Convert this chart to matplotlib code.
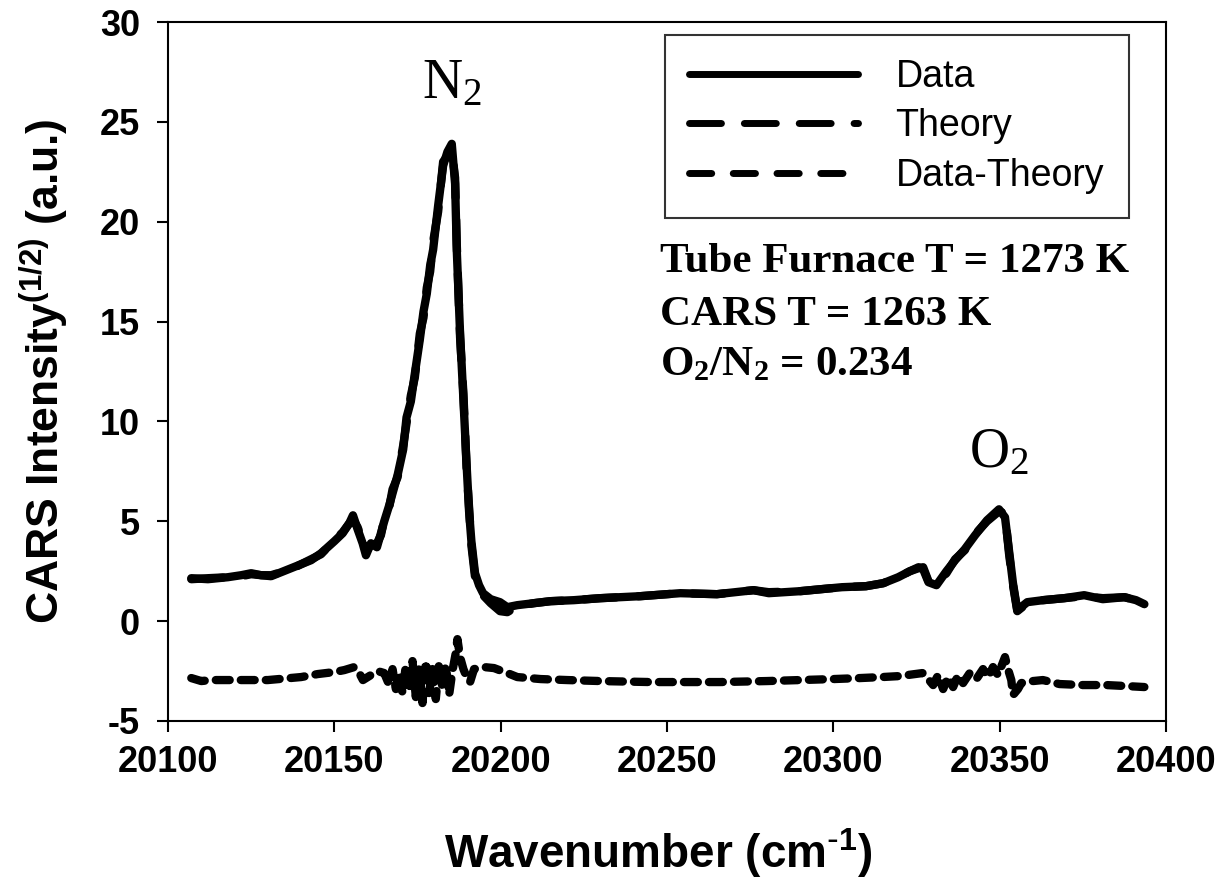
import matplotlib
matplotlib.use("Agg")
import matplotlib.pyplot as plt
from matplotlib.lines import Line2D

plt.rcParams['font.family'] = ['Liberation Sans', 'DejaVu Sans']
plt.rcParams['mathtext.default'] = 'regular'
plt.rcParams['axes.unicode_minus'] = False
plt.rcParams['lines.scale_dashes'] = False

# CARS spectrum
data_x = [20107, 20112, 20118, 20122, 20125, 20128, 20131, 20134, 20137, 20140,
          20143, 20146, 20148, 20150, 20152.5, 20154.5, 20155.6, 20157, 20158.5, 20159.5,
          20161, 20162.8, 20164, 20165, 20166.5, 20167.5, 20169, 20170.7, 20171.7, 20173,
          20174.2, 20175.7, 20176.8, 20177.8, 20178.8, 20179.7, 20181.2, 20182.7, 20184, 20185.3,
          20186.3, 20186.8, 20187.8, 20188.8, 20189.8, 20190.5, 20191.2, 20192.3, 20193.5, 20194.7,
          20197, 20199.8, 20202, 20205, 20210, 20215, 20222, 20230, 20242, 20254,
          20265, 20276, 20280.6, 20290, 20302.6, 20309.8, 20315, 20319.5, 20323, 20325.6,
          20327, 20328.6, 20331, 20334, 20336.6, 20339.5, 20342.6, 20346.2, 20349.8, 20351.6,
          20352.8, 20354, 20355.3, 20358.3, 20363, 20369.4, 20375.4, 20381, 20387.5, 20391,
          20393.5]
data_y = [2.15, 2.1, 2.2, 2.3, 2.4, 2.3, 2.25, 2.45, 2.65, 2.85,
          3.05, 3.4, 3.7, 4.0, 4.4, 4.9, 5.3, 4.6, 3.9, 3.3,
          3.9, 3.7, 4.4, 5.0, 5.8, 6.4, 7.3, 8.6, 10.2, 11.0,
          12.4, 14.1, 15.5, 16.4, 17.8, 18.6, 20.8, 22.8, 23.5, 23.9,
          21.9, 18.6, 14.4, 11.1, 7.7, 5.5, 4.0, 2.4, 1.8, 1.4,
          1.1, 0.95, 0.7, 0.8, 0.9, 1.0, 1.05, 1.15, 1.25, 1.4,
          1.35, 1.55, 1.4, 1.5, 1.7, 1.75, 1.9, 2.2, 2.5, 2.7,
          2.6, 1.95, 1.8, 2.5, 3.05, 3.6, 4.3, 5.05, 5.6, 5.2,
          3.55, 1.9, 0.55, 0.95, 1.05, 1.15, 1.3, 1.1, 1.2, 1.05,
          0.85]
theory_y = [2.1, 2.15, 2.2, 2.25, 2.35, 2.3, 2.3, 2.45, 2.6, 2.85,
            3.1, 3.35, 3.7, 4.05, 4.45, 4.9, 5.1, 4.7, 4.0, 3.5,
            3.8, 3.9, 4.3, 5.1, 5.7, 6.6, 7.2, 8.8, 9.9, 11.3,
            12.2, 14.4, 15.2, 16.7, 17.5, 19.0, 20.5, 23.0, 23.3, 23.6,
            22.2, 18.9, 14.2, 11.4, 7.5, 5.7, 3.8, 2.2, 1.7, 1.3,
            0.9, 0.5, 0.45, 0.75, 0.9, 1.0, 1.05, 1.15, 1.25, 1.4,
            1.35, 1.55, 1.45, 1.5, 1.7, 1.75, 1.9, 2.2, 2.5, 2.65,
            2.7, 2.0, 1.9, 2.4, 3.1, 3.55, 4.35, 5.0, 5.5, 5.4,
            3.4, 1.8, 0.5, 0.9, 1.05, 1.15, 1.25, 1.15, 1.2, 1.05,
            0.85]

# Data - Theory, drawn shifted down by 3
resid_x = [20107, 20110, 20113, 20120, 20130, 20140, 20145, 20150, 20153, 20156,
           20157.5, 20158.6, 20161, 20163, 20165, 20166.5, 20167.5, 20168.5, 20169.5, 20170.5,
           20171.5, 20172.5, 20173.5, 20174.5, 20175.5, 20176.5, 20177.5, 20178.5, 20179.5, 20180.5,
           20181.5, 20182.5, 20183.5, 20184.5, 20185.5, 20186.5, 20187, 20187.8, 20188.8, 20190,
           20190.8, 20192, 20195, 20198, 20202, 20205, 20212, 20220, 20230, 20245,
           20266, 20280, 20290, 20300, 20308, 20314.6, 20320, 20326.8, 20328.5, 20330,
           20331.5, 20333, 20334.5, 20336, 20337.5, 20339, 20341, 20343, 20345, 20346.5,
           20348, 20349.5, 20351.6, 20352.5, 20353.5, 20354, 20355.5, 20356.5, 20360, 20363,
           20368, 20375, 20382, 20388, 20393.5]
resid_y = [-2.85, -3.0, -2.95, -2.95, -2.95, -2.8, -2.65, -2.55, -2.45, -2.3,
           -2.6, -2.95, -2.7, -2.5, -2.6, -3.2, -2.4, -3.4, -2.6, -3.6,
           -2.2, -3.5, -2.0, -3.8, -2.3, -4.1, -2.0, -3.6, -2.4, -3.9,
           -2.1, -3.4, -2.2, -3.7, -2.5, -1.6, -0.9, -1.8, -2.4, -2.9,
           -3.05, -2.4, -2.3, -2.35, -2.6, -2.8, -2.9, -2.95, -3.0, -3.05,
           -3.05, -3.0, -2.95, -2.9, -2.85, -2.8, -2.75, -2.6, -2.9, -3.2,
           -2.7, -3.4, -2.8, -3.3, -2.7, -3.1, -2.6, -2.9, -2.4, -2.8,
           -2.3, -2.7, -1.8, -2.4, -2.95, -3.7, -3.4, -3.1, -3.0, -2.95,
           -3.15, -3.2, -3.2, -3.25, -3.3]

xticks = [20100, 20150, 20200, 20250, 20300, 20350, 20400]
yticks = [-5, 0, 5, 10, 15, 20, 25, 30]

fig = plt.figure(figsize=(12.3, 8.86), dpi=100)
ax = fig.add_axes([168 / 1230, 1 - 721 / 886, 998 / 1230, 699 / 886])

ax.plot(data_x, data_y, color='black', lw=6, solid_capstyle='round', solid_joinstyle='round')
ax.plot(data_x, theory_y, color='black', lw=6, linestyle=(0, (23, 16)),
        dash_capstyle='round', dash_joinstyle='round')
ax.plot(resid_x, resid_y, color='black', lw=6, linestyle=(0, (10, 8)),
        dash_capstyle='round', dash_joinstyle='round')

ax.set_xlim(20100, 20400)
ax.set_ylim(-5, 30)
ax.set_xticks(xticks)
ax.set_yticks(yticks)
ax.tick_params(direction='out', length=8, width=1.5, top=False, right=False)
ax.tick_params(axis='x', pad=9)
ax.tick_params(axis='y', pad=12)
for lab in ax.get_xticklabels() + ax.get_yticklabels():
    lab.set_fontsize(26)
    lab.set_fontweight('bold')
for s in ax.spines.values():
    s.set_linewidth(1.5)

ax.set_xlabel(r'Wavenumber (cm$^{\text{-}1}$)', fontsize=33, fontweight='bold')
ax.set_ylabel('CARS Intensity$^{(1/2)}$ (a.u.)', fontsize=32, fontweight='bold')
ax.xaxis.set_label_coords(0.491, -0.150)
ax.yaxis.set_label_coords(-0.097, 0.5)

serif = ['Liberation Serif', 'DejaVu Serif']
ax.text(20176.3, 26.2, 'N$_2$', family=serif, fontsize=40, va='baseline')
ax.text(20340.8, 7.7, 'O$_2$', family=serif, fontsize=40, va='baseline')
ax.text(20247.9, 17.48, 'Tube Furnace T = 1273 K', family=serif, fontsize=31,
        fontweight='bold', va='baseline')
ax.text(20247.9, 14.82, 'CARS T = 1263 K', family=serif, fontsize=31,
        fontweight='bold', va='baseline')
ax.text(20247.9, 12.32, 'O$_2$/N$_2$ = 0.234', family=serif, fontsize=31,
        fontweight='bold', va='baseline')

handles = [
    Line2D([], [], color='black', lw=5, solid_capstyle='round'),
    Line2D([], [], color='black', lw=5, linestyle=(0, (23, 16.5)), dash_capstyle='round'),
    Line2D([], [], color='black', lw=5, linestyle=(0, (16, 15.5)), dash_capstyle='round'),
]
leg = ax.legend(handles, ['Data', 'Theory', 'Data-Theory'], loc='upper left',
                bbox_to_anchor=(665 / 1230, 1 - 35 / 886), bbox_transform=fig.transFigure,
                fontsize=27, frameon=True, fancybox=False, handlelength=4.5,
                handletextpad=1.0, labelspacing=0.35, borderpad=0.65, borderaxespad=0)
leg.get_frame().set_edgecolor('black')
leg.get_frame().set_linewidth(1.5)

fig.savefig('out.png', dpi=100)
